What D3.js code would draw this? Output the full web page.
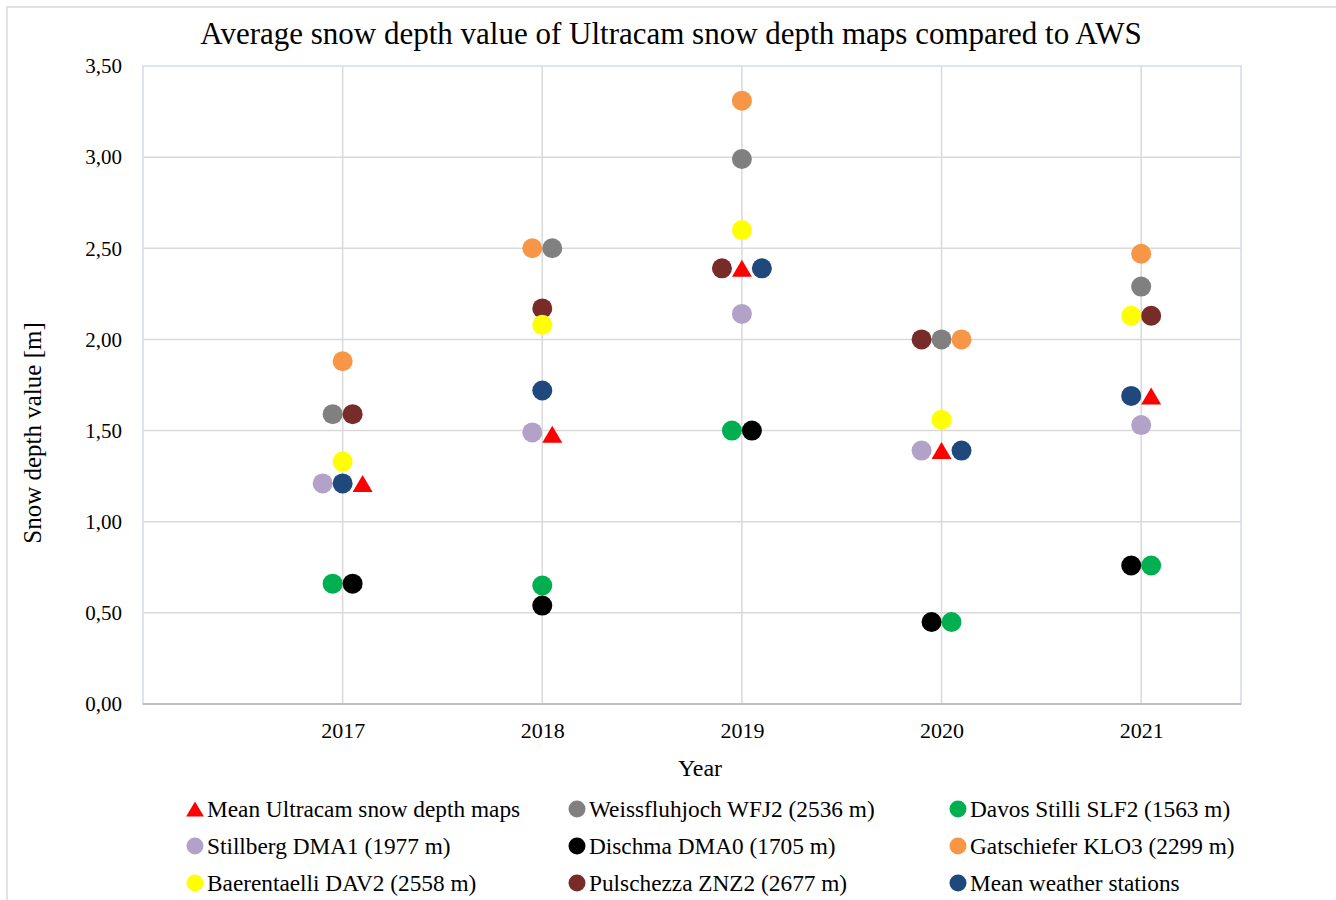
<!DOCTYPE html>
<html>
<head>
<meta charset="utf-8">
<script src="https://cdn.jsdelivr.net/npm/d3@7"></script>
<style>
  body { margin: 0; background: #fff; }
  text { font-family: "Liberation Serif", "Times New Roman", serif; fill: #000; }
</style>
</head>
<body>
<div id="chart"></div>
<script>
// years on the x axis
var years = [2017, 2018, 2019, 2020, 2021];
var yTicks = [0, 0.5, 1, 1.5, 2, 2.5, 3, 3.5];

// series in legend order
var seriesNames = [
    "Mean Ultracam snow depth maps",
    "Weissfluhjoch WFJ2 (2536 m)",
    "Davos Stilli SLF2 (1563 m)",
    "Stillberg DMA1 (1977 m)",
    "Dischma DMA0 (1705 m)",
    "Gatschiefer KLO3 (2299 m)",
    "Baerentaelli DAV2 (2558 m)",
    "Pulschezza ZNZ2 (2677 m)",
    "Mean weather stations"
];
var seriesColors = ["#ff0000", "#808080", "#00b050", "#b3a2c7", "#000000",
    "#f79646", "#ffff00", "#772c2a", "#1f497d"];

// snow depth [m] per year
var meanUltracam = [1.21, 1.48, 2.39, 1.39, 1.69];
var weissfluhjoch = [1.59, 2.50, 2.99, 2.00, 2.29];
var davosStilli = [0.66, 0.65, 1.50, 0.45, 0.76];
var stillberg = [1.21, 1.49, 2.14, 1.39, 1.53];
var dischma = [0.66, 0.54, 1.50, 0.45, 0.76];
var gatschiefer = [1.88, 2.50, 3.31, 2.00, 2.47];
var baerentaelli = [1.33, 2.08, 2.60, 1.56, 2.13];
var pulschezza = [1.59, 2.17, 2.39, 2.00, 2.13];
var meanStations = [1.21, 1.72, 2.39, 1.39, 1.69];

// small x shifts (in years) the original used to keep markers apart
var shiftUltracam = [0.1, 0.05, 0, 0, 0.05];
var shiftWeiss = [-0.05, 0.05, 0, 0, 0];
var shiftDavos = [-0.05, 0, -0.05, 0.05, 0.05];
var shiftStillberg = [-0.1, -0.05, 0, -0.1, 0];
var shiftDischma = [0.05, 0, 0.05, -0.05, -0.05];
var shiftGatsch = [0, -0.05, 0, 0.1, 0];
var shiftBaeren = [0, 0, 0, 0, -0.05];
var shiftPulsch = [0.05, 0, -0.1, -0.1, 0.05];
var shiftStations = [0, 0, 0.1, 0.1, -0.05];

var seriesValues = [meanUltracam, weissfluhjoch, davosStilli, stillberg, dischma,
    gatschiefer, baerentaelli, pulschezza, meanStations];
var seriesShifts = [shiftUltracam, shiftWeiss, shiftDavos, shiftStillberg, shiftDischma,
    shiftGatsch, shiftBaeren, shiftPulsch, shiftStations];

(function () {
    var width = 1336,
        height = 900;

    var svg = d3.select("#chart").append("svg")
        .attr("width", width)
        .attr("height", height);

    svg.append("rect").attr("width", width).attr("height", height).attr("fill", "#fff");

    // outer chart frame
    svg.append("path")
        .attr("d", "M7," + height + "V7H" + width)
        .attr("fill", "none")
        .attr("stroke", "#d9d9d9")
        .attr("stroke-width", 1.5);

    var x = d3.scaleLinear().domain([2016, 2021.5]).range([143, 1241]);
    var y = d3.scaleLinear().domain([0, 3.5]).range([704, 66]);

    var comma = d3.formatLocale({ decimal: ",", thousands: ".", grouping: [3], currency: ["", ""] }).format(".2f");

    // gridlines
    svg.append("g").selectAll("line")
        .data(yTicks.filter(function (d) { return d > 0 && d < 3.5; }))
        .enter().append("line")
        .attr("x1", x(2016)).attr("x2", x(2021.5))
        .attr("y1", function (d) { return y(d); })
        .attr("y2", function (d) { return y(d); })
        .attr("stroke", "#d9d9d9").attr("stroke-width", 1.5);

    svg.append("g").selectAll("line")
        .data(years)
        .enter().append("line")
        .attr("x1", function (d) { return x(d); })
        .attr("x2", function (d) { return x(d); })
        .attr("y1", y(3.5)).attr("y2", y(0))
        .attr("stroke", "#d9d9d9").attr("stroke-width", 1.5);

    // plot frame
    svg.append("rect")
        .attr("x", x(2016)).attr("y", y(3.5))
        .attr("width", x(2021.5) - x(2016))
        .attr("height", y(0) - y(3.5))
        .attr("fill", "none")
        .attr("stroke", "#d3dae6").attr("stroke-width", 1.5);

    svg.append("line")
        .attr("x1", x(2016)).attr("x2", x(2021.5))
        .attr("y1", y(0)).attr("y2", y(0))
        .attr("stroke", "#bfbfbf").attr("stroke-width", 2);

    // axes (labels only)
    var yAxis = svg.append("g")
        .attr("transform", "translate(" + x(2016) + ",0)")
        .call(d3.axisLeft(y).tickValues(yTicks).tickFormat(comma).tickSize(0).tickPadding(21));
    yAxis.select(".domain").remove();
    yAxis.selectAll("text")
        .attr("font-family", "Liberation Serif")
        .attr("font-size", 21).attr("fill", "#000");

    var xAxis = svg.append("g")
        .attr("transform", "translate(0," + y(0) + ")")
        .call(d3.axisBottom(x).tickValues(years).tickFormat(d3.format("d")).tickSize(0).tickPadding(18));
    xAxis.select(".domain").remove();
    xAxis.selectAll("text")
        .attr("font-family", "Liberation Serif")
        .attr("font-size", 22).attr("fill", "#000");

    // titles
    svg.append("text")
        .attr("x", 671).attr("y", 44)
        .attr("text-anchor", "middle")
        .attr("font-size", 31)
        .text("Average snow depth value of Ultracam snow depth maps compared to AWS");

    svg.append("text")
        .attr("transform", "translate(41,433) rotate(-90)")
        .attr("text-anchor", "middle")
        .attr("font-size", 25)
        .text("Snow depth value [m]");

    svg.append("text")
        .attr("x", 700).attr("y", 776)
        .attr("text-anchor", "middle")
        .attr("font-size", 24)
        .text("Year");

    // triangle centred on its bounding box, like the Excel marker
    var triangle = {
        draw: function (context, size) {
            var w = Math.sqrt(size * 2 / 0.85), h = w * 0.85;
            context.moveTo(0, -h / 2);
            context.lineTo(w / 2, h / 2);
            context.lineTo(-w / 2, h / 2);
            context.closePath();
        }
    };

    // points, brown drawn before yellow as in the original
    var drawOrder = [0, 1, 2, 3, 4, 5, 7, 6, 8];
    var points = [];
    drawOrder.forEach(function (s) {
        seriesValues[s].forEach(function (v, i) {
            points.push({ s: s, x: years[i] + seriesShifts[s][i], v: v });
        });
    });

    svg.append("g").selectAll(".pt")
        .data(points)
        .enter().append("path")
        .attr("class", "pt")
        .attr("transform", function (d) { return "translate(" + x(d.x) + "," + y(d.v) + ")"; })
        .attr("d", function (d) {
            return d.s === 0
                ? d3.symbol().type(triangle).size(20 * 17 / 2)()
                : d3.symbol().type(d3.symbolCircle).size(Math.PI * 100)();
        })
        .attr("fill", function (d) { return seriesColors[d.s]; });

    // legend
    var colX = [195, 577, 958];
    var rowY = [809, 846, 883];

    var legend = svg.append("g").selectAll(".leg")
        .data(seriesNames)
        .enter().append("g")
        .attr("class", "leg")
        .attr("transform", function (d, i) {
            return "translate(" + colX[i % 3] + "," + rowY[Math.floor(i / 3)] + ")";
        });

    legend.append("path")
        .attr("d", function (d, i) {
            return i === 0
                ? d3.symbol().type(triangle).size(18 * 15 / 2)()
                : d3.symbol().type(d3.symbolCircle).size(Math.PI * 8.5 * 8.5)();
        })
        .attr("fill", function (d, i) { return seriesColors[i]; });

    legend.append("text")
        .attr("x", 12).attr("y", 8)
        .attr("font-size", 23.3)
        .text(function (d) { return d; });
})();
</script>
</body>
</html>
